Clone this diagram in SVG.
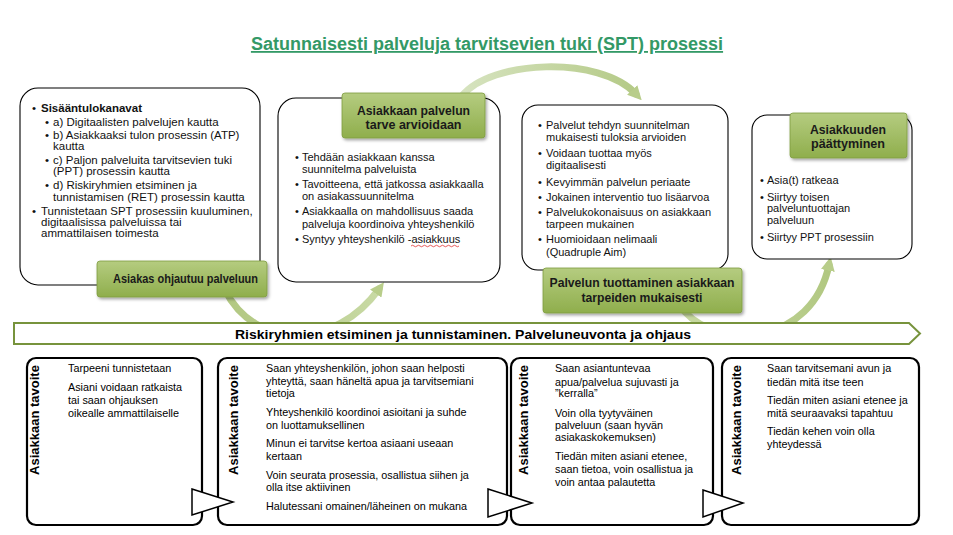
<svg xmlns="http://www.w3.org/2000/svg" width="953" height="535" viewBox="0 0 953 535">
<defs>
<style>
.t{font-family:"Liberation Sans",Arial,sans-serif;font-size:11px;fill:#111}
.t1{font-family:"Liberation Sans",Arial,sans-serif;font-size:11.5px;fill:#111}
.b{font-family:"Liberation Sans",Arial,sans-serif;font-size:10.8px;fill:#000}
.lab{font-family:"Liberation Sans",Arial,sans-serif;font-size:13px;font-weight:bold;fill:#1a1a1a;text-anchor:middle}
.vt{font-family:"Liberation Sans",Arial,sans-serif;font-size:13px;font-weight:bold;fill:#000;text-anchor:middle}
.box{fill:#fff;stroke:#000;stroke-width:1.1}
.bbox{fill:#fff;stroke:#000;stroke-width:2.2}
.gl{fill:url(#gg);stroke:#7E9C40;stroke-width:0.8;filter:url(#sh)}
.arc{fill:none;stroke-width:7;stroke-linecap:round}
.tri{fill:#fff;stroke:#000;stroke-width:1.5;stroke-linejoin:miter}
</style>
<linearGradient id="gg" x1="0" y1="0" x2="0" y2="1">
<stop offset="0" stop-color="#B5CC80"/>
<stop offset="1" stop-color="#8FAE4C"/>
</linearGradient>
<linearGradient id="ga1" gradientUnits="userSpaceOnUse" x1="225" y1="300" x2="385" y2="280">
<stop offset="0" stop-color="#B2C882"/>
<stop offset="1" stop-color="#C9DAA6"/>
</linearGradient>
<linearGradient id="ga2" gradientUnits="userSpaceOnUse" x1="462" y1="90" x2="640" y2="100">
<stop offset="0" stop-color="#D6E3BF"/>
<stop offset="1" stop-color="#B3C985"/>
</linearGradient>
<linearGradient id="ga3" gradientUnits="userSpaceOnUse" x1="690" y1="320" x2="835" y2="258">
<stop offset="0" stop-color="#C6D8A0"/>
<stop offset="1" stop-color="#AFC67E"/>
</linearGradient>
<marker id="ah" viewBox="0 0 10 10" refX="4" refY="5" markerWidth="14" markerHeight="14" markerUnits="userSpaceOnUse" orient="auto">
<path d="M0,0 L10,5 L0,10 z" fill="#B8CD8A"/>
</marker>
<filter id="sh" x="-10%" y="-15%" width="125%" height="145%">
<feDropShadow dx="1.5" dy="2" stdDeviation="1.5" flood-color="#000" flood-opacity="0.35"/>
</filter>
</defs>

<rect width="953" height="535" fill="#fff"/>

<text x="487" y="50" font-family="Liberation Sans,Arial,sans-serif" font-size="18" font-weight="bold" fill="#339966" text-anchor="middle" text-decoration="underline">Satunnaisesti palveluja tarvitsevien tuki (SPT) prosessi</text>

<g id="connectors">
<path class="arc" stroke="url(#ga1)" d="M225,290 C255,350 335,350 379,289" marker-end="url(#ah)"/>
<path class="arc" stroke="url(#ga2)" d="M462,96 C490,60 600,55 636,94" marker-end="url(#ah)"/>
<path class="arc" stroke="url(#ga3)" d="M685,312 C720,350 812,345 829,265" marker-end="url(#ah)"/>
</g>

<g id="box1">
<rect class="box" x="20" y="88" width="240" height="197" rx="18"/>
<text class="t1" x="32" y="112">•</text><text class="t1" x="41" y="112" font-weight="bold">Sisääntulokanavat</text>
<text class="t1" x="45" y="126">•</text><text class="t1" x="53" y="126">a) Digitaalisten palvelujen kautta</text>
<text class="t1" x="45" y="139">•</text><text class="t1" x="53" y="139">b) Asiakkaaksi tulon prosessin (ATP)</text>
<text class="t1" x="53" y="150">kautta</text>
<text class="t1" x="45" y="164">•</text><text class="t1" x="53" y="164">c) Paljon palveluita tarvitsevien tuki</text>
<text class="t1" x="53" y="175">(PPT) prosessin kautta</text>
<text class="t1" x="45" y="189">•</text><text class="t1" x="53" y="189">d) Riskiryhmien etsiminen ja</text>
<text class="t1" x="53" y="201">tunnistamisen (RET) prosessin kautta</text>
<text class="t1" x="32" y="215">•</text><text class="t1" x="41" y="215">Tunnistetaan SPT prosessiin kuuluminen,</text>
<text class="t1" x="41" y="226">digitaalisissa palveluissa tai</text>
<text class="t1" x="41" y="237">ammattilaisen toimesta</text>
</g>

<g id="box2">
<rect class="box" x="278" y="98" width="222" height="184" rx="18"/>
<text class="t" x="295" y="161">•</text><text class="t" x="302" y="161">Tehdään asiakkaan kanssa</text>
<text class="t" x="302" y="173">suunnitelma palveluista</text>
<text class="t" x="295" y="188">•</text><text class="t" x="302" y="188">Tavoitteena, että jatkossa asiakkaalla</text>
<text class="t" x="302" y="200">on asiakassuunnitelma</text>
<text class="t" x="295" y="215">•</text><text class="t" x="302" y="215">Asiakkaalla on mahdollisuus saada</text>
<text class="t" x="302" y="228">palveluja koordinoiva yhteyshenkilö</text>
<text class="t" x="295" y="243">•</text><text class="t" x="302" y="243">Syntyy yhteyshenkilö -asiakkuus</text>
<path d="M411,246 q1.5,-1.5 3,0 t3,0 t3,0 t3,0 t3,0 t3,0 t3,0 t3,0 t3,0 t3,0 t3,0 t3,0 t3,0 t3,0 t3,0 t3,0" fill="none" stroke="#E03030" stroke-width="0.8"/>
</g>

<g id="box3">
<rect class="box" x="522" y="105" width="206" height="165" rx="16"/>
<text class="t" x="538" y="129">•</text><text class="t" x="546" y="129">Palvelut tehdyn suunnitelman</text>
<text class="t" x="546" y="141">mukaisesti tuloksia arvioiden</text>
<text class="t" x="538" y="157">•</text><text class="t" x="546" y="157">Voidaan tuottaa myös</text>
<text class="t" x="546" y="169">digitaalisesti</text>
<text class="t" x="538" y="186">•</text><text class="t" x="546" y="186">Kevyimmän palvelun periaate</text>
<text class="t" x="538" y="201">•</text><text class="t" x="546" y="201">Jokainen interventio tuo lisäarvoa</text>
<text class="t" x="538" y="216">•</text><text class="t" x="546" y="216">Palvelukokonaisuus on asiakkaan</text>
<text class="t" x="546" y="228">tarpeen mukainen</text>
<text class="t" x="538" y="243">•</text><text class="t" x="546" y="243">Huomioidaan nelimaali</text>
<text class="t" x="546" y="256">(Quadruple Aim)</text>
</g>

<g id="box4">
<rect class="box" x="752" y="115" width="160" height="144" rx="15"/>
<text class="t" x="760" y="184">•</text><text class="t" x="767" y="184">Asia(t) ratkeaa</text>
<text class="t" x="760" y="201">•</text><text class="t" x="767" y="201">Siirtyy toisen</text>
<text class="t" x="767" y="212">palveluntuottajan</text>
<text class="t" x="767" y="224">palveluun</text>
<text class="t" x="760" y="241">•</text><text class="t" x="767" y="241">Siirtyy PPT prosessiin</text>
</g>

<g id="label1">
<rect class="gl" x="97" y="261" width="170" height="36" rx="3"/>
<text class="lab" x="185.5" y="283" textLength="145" lengthAdjust="spacingAndGlyphs">Asiakas ohjautuu palveluun</text>
</g>
<g id="label2">
<rect class="gl" x="342" y="93" width="143" height="45" rx="3"/>
<text class="lab" x="413.5" y="115" textLength="113" lengthAdjust="spacingAndGlyphs">Asiakkaan palvelun</text>
<text class="lab" x="413.5" y="129" textLength="96" lengthAdjust="spacingAndGlyphs">tarve arvioidaan</text>
</g>
<g id="label3">
<rect class="gl" x="543" y="268" width="199" height="45" rx="3"/>
<text class="lab" x="642" y="287" textLength="185" lengthAdjust="spacingAndGlyphs">Palvelun tuottaminen asiakkaan</text>
<text class="lab" x="642" y="302" textLength="121" lengthAdjust="spacingAndGlyphs">tarpeiden mukaisesti</text>
</g>
<g id="label4">
<rect class="gl" x="790" y="113" width="117" height="45" rx="3"/>
<text class="lab" x="848" y="134" textLength="76" lengthAdjust="spacingAndGlyphs">Asiakkuuden</text>
<text class="lab" x="848" y="148" textLength="74" lengthAdjust="spacingAndGlyphs">päättyminen</text>
</g>

<g id="banner">
<path d="M14,323 L909,323 L920,333.5 L909,344 L14,344 Z" fill="#fff" stroke="#77933C" stroke-width="2"/>
<text x="463" y="338.5" font-family="Liberation Sans,Arial,sans-serif" font-size="13" font-weight="bold" fill="#000" text-anchor="middle" textLength="456" lengthAdjust="spacingAndGlyphs">Riskiryhmien etsiminen ja tunnistaminen. Palveluneuvonta ja ohjaus</text>
</g>

<g id="goal1">
<rect class="bbox" x="27" y="358" width="175" height="167" rx="9"/>
<text class="vt" transform="translate(39,420) rotate(-90)">Asiakkaan tavoite</text>
<text class="b" x="68" y="372">Tarpeeni tunnistetaan</text>
<text class="b" x="68" y="391">Asiani voidaan ratkaista</text>
<text class="b" x="68" y="404">tai saan ohjauksen</text>
<text class="b" x="68" y="417">oikealle ammattilaiselle</text>
</g>

<g id="goal2">
<rect class="bbox" x="218" y="358" width="289" height="167" rx="9"/>
<text class="vt" transform="translate(238,420) rotate(-90)">Asiakkaan tavoite</text>
<text class="b" x="266" y="372">Saan yhteyshenkilön, johon saan helposti</text>
<text class="b" x="266" y="385">yhteyttä, saan häneltä apua ja tarvitsemiani</text>
<text class="b" x="266" y="397">tietoja</text>
<text class="b" x="266" y="416">Yhteyshenkilö koordinoi asioitani ja suhde</text>
<text class="b" x="266" y="429">on luottamuksellinen</text>
<text class="b" x="266" y="447">Minun ei tarvitse kertoa asiaani useaan</text>
<text class="b" x="266" y="460">kertaan</text>
<text class="b" x="266" y="479">Voin seurata prosessia, osallistua siihen ja</text>
<text class="b" x="266" y="491">olla itse aktiivinen</text>
<text class="b" x="266" y="510">Halutessani omainen/läheinen on mukana</text>
</g>

<g id="goal3">
<rect class="bbox" x="511" y="358" width="202" height="167" rx="9"/>
<text class="vt" transform="translate(528,420) rotate(-90)">Asiakkaan tavoite</text>
<text class="b" x="555" y="372">Saan asiantuntevaa</text>
<text class="b" x="555" y="386">apua/palvelua sujuvasti ja</text>
<text class="b" x="555" y="397">”kerralla”</text>
<text class="b" x="555" y="417">Voin olla tyytyväinen</text>
<text class="b" x="555" y="429">palveluun (saan hyvän</text>
<text class="b" x="555" y="441">asiakaskokemuksen)</text>
<text class="b" x="555" y="460">Tiedän miten asiani etenee,</text>
<text class="b" x="555" y="473">saan tietoa, voin osallistua ja</text>
<text class="b" x="555" y="486">voin antaa palautetta</text>
</g>

<g id="goal4">
<rect class="bbox" x="722" y="358" width="197" height="167" rx="9"/>
<text class="vt" transform="translate(741,420) rotate(-90)">Asiakkaan tavoite</text>
<text class="b" x="767" y="372">Saan tarvitsemani avun ja</text>
<text class="b" x="767" y="386">tiedän mitä itse teen</text>
<text class="b" x="767" y="404">Tiedän miten asiani etenee ja</text>
<text class="b" x="767" y="417">mitä seuraavaksi tapahtuu</text>
<text class="b" x="767" y="435">Tiedän kehen voin olla</text>
<text class="b" x="767" y="448">yhteydessä</text>
</g>

<g id="flow-arrows">
<path class="tri" d="M192,489 L233,502 L192,515 Z"/>
<path class="tri" d="M488,489 L532,503 L488,517 Z"/>
<path class="tri" d="M703,490 L743,503 L703,517 Z"/>
</g>
</svg>
